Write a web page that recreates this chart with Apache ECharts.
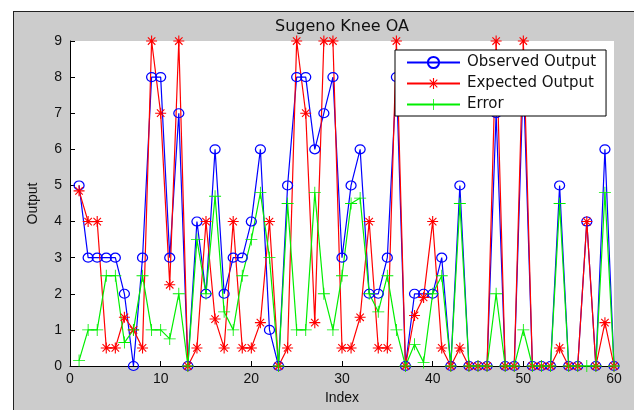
<!DOCTYPE html>
<html>
<head>
<meta charset="utf-8">
<script src="https://cdn.jsdelivr.net/npm/echarts@6/dist/echarts.min.js"></script>
<style>
  html, body { margin: 0; padding: 0; background: #fff; }
  #frame { position: absolute; left: 13px; top: 11px; width: 621px; height: 399px;
           background: #cccccc; border-left: 1px solid #222; border-top: 1px solid #222; }
  #chart { position: absolute; left: 0; top: 0; width: 634px; height: 410px; }
</style>
</head>
<body>
<div id="frame"></div>
<div id="chart"></div>
<script>
const index = [];
for (let i = 1; i <= 60; i++) index.push(i);

const observed = [5, 3, 3, 3, 3, 2, 0, 3, 8, 8,
  3, 7, 0, 4, 2, 6, 2, 3, 3, 4,
  6, 1, 0, 5, 8, 8, 6, 7, 8, 3,
  5, 6, 2, 2, 3, 8, 0, 2, 2, 2,
  3, 0, 5, 0, 0, 0, 7, 0, 0, 8,
  0, 0, 0, 5, 0, 0, 4, 0, 6, 0];

const expected = [4.85, 4, 4, 0.5, 0.5, 1.35, 1, 0.5, 9, 7,
  2.25, 9, 0, 0.5, 4, 1.3, 0.5, 4, 0.5, 0.5,
  1.2, 4, 0, 0.5, 9, 7, 1.2, 9, 9, 0.5,
  0.5, 1.35, 4, 0.5, 0.5, 9, 0, 1.4, 1.9, 4,
  0.5, 0, 0.5, 0, 0, 0, 9, 0, 0, 9,
  0, 0, 0, 0.5, 0, 0, 4, 0, 1.2, 0];

const error = [0.15, 1, 1, 2.5, 2.5, 0.65, 1, 2.5, 1, 1,
  0.75, 2, 0, 3.5, 2, 4.7, 1.5, 1, 2.5, 3.5,
  4.8, 3, 0, 4.5, 1, 1, 4.8, 2, 1, 2.5,
  4.5, 4.65, 2, 1.5, 2.5, 1, 0, 0.6, 0.1, 2,
  2.5, 0, 4.5, 0, 0, 0, 2, 0, 0, 1,
  0, 0, 0, 4.5, 0, 0, 0, 0, 4.8, 0];

const asterisk = 'path://M0,9 H20 V11 H0 Z M9,0 H11 V20 H9 Z M2.5,3.9 L3.9,2.5 L17.5,16.1 L16.1,17.5 Z M16.1,2.5 L17.5,3.9 L3.9,17.5 L2.5,16.1 Z';
const plus = 'path://M0,9.3 H20 V10.7 H0 Z M9.3,0 H10.7 V20 H9.3 Z';

const pairs = (ys) => ys.map((y, i) => [index[i], y]);

const chart = echarts.init(document.getElementById('chart'));
chart.setOption({
  backgroundColor: 'transparent',
  animation: false,
  textStyle: { fontFamily: 'DejaVu Sans' },
  title: {
    text: 'Sugeno Knee OA',
    left: 342,
    textAlign: 'center',
    top: 19,
    padding: 0,
    textStyle: { fontFamily: 'DejaVu Sans', fontSize: 16, fontWeight: 'normal', color: '#111' }
  },
  legend: {
    orient: 'vertical',
    left: 395,
    top: 50,
    padding: [5, 10, 4, 11],
    itemWidth: 53,
    itemHeight: 14,
    itemGap: 6,
    backgroundColor: '#fff',
    borderColor: '#000',
    borderWidth: 1,
    borderRadius: 0,
    textStyle: { fontFamily: 'DejaVu Sans', fontSize: 15, color: '#111', padding: [0, 0, 0, 2] },
    data: ['Observed Output', 'Expected Output', 'Error']
  },
  grid: {
    left: 70, right: 20, top: 41, bottom: 40,
    show: true, backgroundColor: '#fff', borderWidth: 0
  },
  xAxis: {
    type: 'value', min: 0, max: 60, interval: 10,
    name: 'Index', nameLocation: 'middle', nameGap: 25,
    nameTextStyle: { fontFamily: 'Liberation Sans', fontSize: 14, color: '#111' },
    axisLine: { lineStyle: { color: '#000', width: 1 } },
    axisTick: { inside: true, length: 5, lineStyle: { color: '#000' } },
    axisLabel: { fontFamily: 'Liberation Sans', fontSize: 14, color: '#111', margin: 6 },
    splitLine: { show: false }
  },
  yAxis: {
    type: 'value', min: 0, max: 9, interval: 1,
    name: 'Output', nameLocation: 'middle', nameGap: 30,
    nameTextStyle: { fontFamily: 'Liberation Sans', fontSize: 14, color: '#111' },
    axisLine: { show: true, lineStyle: { color: '#000', width: 1 } },
    axisTick: { show: true, inside: true, length: 5, lineStyle: { color: '#000' } },
    axisLabel: { fontFamily: 'Liberation Sans', fontSize: 14, color: '#111', margin: 8 },
    splitLine: { show: false }
  },
  series: [
    {
      name: 'Observed Output', type: 'line', data: pairs(observed),
      symbol: 'circle', symbolSize: [10, 9], showAllSymbol: true,
      lineStyle: { color: '#0000ff', width: 1.2 },
      itemStyle: { color: 'rgba(0,0,0,0)', borderColor: '#0000ff', borderWidth: 1.2 }
    },
    {
      name: 'Expected Output', type: 'line', data: pairs(expected),
      symbol: asterisk, symbolSize: 11, showAllSymbol: true,
      lineStyle: { color: '#ff0000', width: 1.2 },
      itemStyle: { color: '#ff0000', borderWidth: 0 }
    },
    {
      name: 'Error', type: 'line', data: pairs(error),
      symbol: plus, symbolSize: 12, showAllSymbol: true,
      lineStyle: { color: '#00ee00', width: 1.2 },
      itemStyle: { color: '#00ee00', borderWidth: 0 }
    }
  ]
});
</script>
</body>
</html>
